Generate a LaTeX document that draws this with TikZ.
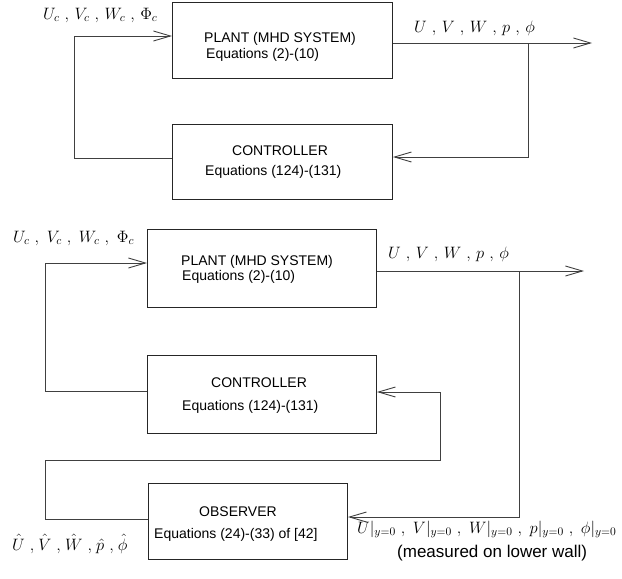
\RequirePackage{fix-cm}
\documentclass[tikz,border=0pt]{standalone}
\usepackage[no-math]{fontspec}
\newfontfamily\hv{Liberation Sans}
\usetikzlibrary{arrows.meta}
\begin{document}
\begin{tikzpicture}[x=1pt,y=-1pt,
  box/.style={draw=black!85,line width=0.9pt,inner sep=0pt,anchor=north west},
  txt/.style={anchor=west,inner sep=0pt,font=\hv\fontsize{14}{16}\selectfont},
  lbl/.style={anchor=base west,inner sep=0pt,font=\fontsize{16.5}{19}\selectfont},
  wire/.style={draw=black!75,line width=0.9pt},
  arr/.style={wire,-{Straight Barb[length=17pt,width=10pt,line width=0.9pt]}}]
\useasboundingbox (0,0) rectangle (622,579);

% ---- upper loop: plant and controller
\node[box,minimum width=220pt,minimum height=76pt] (p1) at (172,2) {};
\node[box,minimum width=220pt,minimum height=75pt] (c1) at (172,124) {};
\node[txt] (p1a) at (204,39) {PLANT (MHD SYSTEM)};
\node[txt] (p1b) at (206,55) {Equations (2)-(10)};
\node[txt] (c1a) at (232,151) {CONTROLLER};
\node[txt] (c1b) at (205,172) {Equations (124)-(131)};

\node[lbl] (in1) at (43,19) {$U_c\ ,\, V_c\ ,\, W_c\ ,\, \Phi_c$};
\node[lbl] (out1) at (414,32) {$U\ ,\, V\ ,\, W\ ,\, p\ ,\, \phi$};

\draw[arr] (c1.west|-0,158) -| (74,36) -- (p1.west|-0,36);
\draw[arr] (p1.east|-0,43) -- (592,43);
\draw[arr] (528,43) |- (c1.east|-0,157);

% ---- lower loop: plant, controller and observer
\node[box,minimum width=229pt,minimum height=78pt] (p2) at (147,229) {};
\node[box,minimum width=229pt,minimum height=78pt] (c2) at (147,355) {};
\node[box,minimum width=199pt,minimum height=76pt] (ob) at (148,483) {};
\node[txt] (p2a) at (181,262) {PLANT (MHD SYSTEM)};
\node[txt] (p2b) at (182,277) {Equations (2)-(10)};
\node[txt] (c2a) at (211,383) {CONTROLLER};
\node[txt] (c2b) at (182,407) {Equations (124)-(131)};
\node[txt] (oba) at (199,512) {OBSERVER};
\node[txt] (obb) at (154,535) {Equations (24)-(33) of [42]};

\node[lbl] (in2) at (13,242) {$U_c\ ,\ V_c\ ,\ W_c\ ,\ \Phi_c$};
\node[lbl] (out2) at (388,258) {$U\ ,\, V\ ,\, W\ ,\, p\ ,\, \phi$};
\node[lbl] (est) at (12,550) {$\hat U\ ,\mkern1.5mu \hat V\ ,\mkern1.5mu \hat W\ ,\mkern1.5mu \hat p\ ,\mkern1.5mu \hat\phi$};
\node[lbl] (meas) at (357,533) {$U|_{y=0}\ ,\ V|_{y=0}\ ,\ W|_{y=0}\ ,\ p|_{y=0}\ ,\ \phi|_{y=0}$};
\node[anchor=west,inner sep=0pt,font=\hv\fontsize{17}{20}\selectfont] (wall) at (397,553) {(measured on lower wall)};

\draw[arr] (c2.west|-0,391) -| (45,263) -- (p2.west|-0,263);
\draw[arr] (p2.east|-0,271) -- (584,271);
\draw[arr] (519,271) |- (ob.east|-0,517);
\draw[arr] (ob.west|-0,519) -| (45,460) -| (440,392) -- (c2.east|-0,392);
\end{tikzpicture}
\end{document}
